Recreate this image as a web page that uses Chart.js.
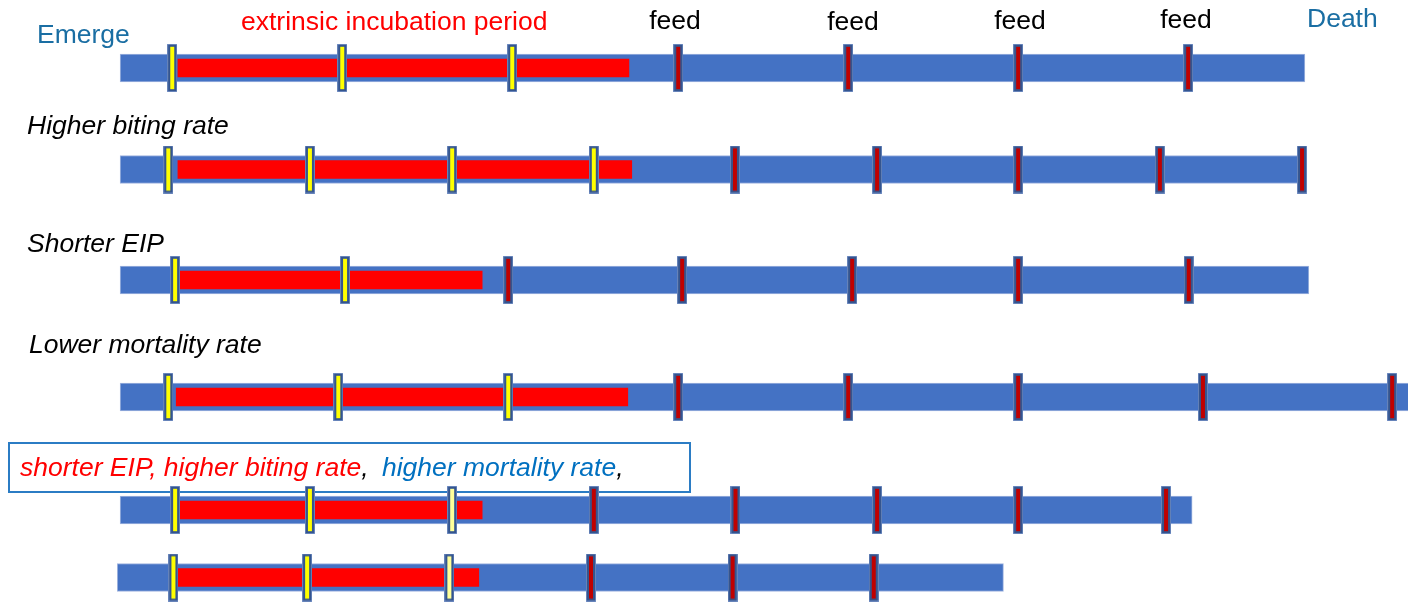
<!DOCTYPE html>
<html>
<head>
<meta charset="utf-8">
<title>EIP timeline</title>
<script src="https://cdn.jsdelivr.net/npm/chart.js@4.4.1/dist/chart.umd.min.js"></script>
<style>
  html, body { margin: 0; padding: 0; background: #fff; }
  #wrap { width: 1408px; height: 604px; }
</style>
</head>
<body>
<div id="wrap"><canvas id="grafico"></canvas></div>
<script>
// --- Dados (dias desde a emergência) ---
const rowNames = ['Baseline', 'Higher biting rate', 'Shorter EIP', 'Lower mortality rate', 'Combined', 'Combined (alt)'];
const lifeStart = [0, 0, 0, 0, 0, -0.05];
const lifeEnd = [20.91, 20.91, 20.98, 23.5, 18.92, 15.59];
const eipStart = [1.02, 1.02, 1.02, 0.99, 1.02, 1.01];
const eipEnd = [8.98, 9.03, 6.39, 8.96, 6.39, 6.33];
const feedDays = [
    [0.92, 3.92, 6.92, 9.85, 12.85, 15.85, 18.85],
    [0.85, 3.35, 5.86, 8.36, 10.85, 13.36, 15.85, 18.35, 20.86],
    [0.97, 3.97, 6.85, 9.92, 12.92, 15.85, 18.86],
    [0.85, 3.85, 6.85, 9.85, 12.85, 15.85, 19.11, 22.45],
    [0.97, 3.35, 5.86, 8.36, 10.86, 13.36, 15.85, 18.46],
    [0.94, 3.30, 5.81, 8.31, 10.81, 13.30]
];
// i = refeição durante o EIP, p = refeição clara, f = refeição infecciosa
const feedKinds = [
    ['i', 'i', 'i', 'f', 'f', 'f', 'f'],
    ['i', 'i', 'i', 'i', 'f', 'f', 'f', 'f', 'f'],
    ['i', 'i', 'f', 'f', 'f', 'f', 'f'],
    ['i', 'i', 'i', 'f', 'f', 'f', 'f', 'f'],
    ['i', 'i', 'p', 'f', 'f', 'f', 'f', 'f'],
    ['i', 'i', 'p', 'f', 'f', 'f']
];

// --- Layout ---
const DAY_MIN = -2.12;
const DAY_MAX = 22.73;
const LANE_MAX = 6.04;
const laneY = [0.68, 1.695, 2.80, 3.97, 5.10, 5.775];

const FONT = '"Liberation Sans", Arial, sans-serif';
const TEAL = '#1a6ea3';

const topLabels = [
    { text: 'Emerge', x: 37, y: 43, color: TEAL },
    { text: 'extrinsic incubation period', x: 241, y: 30, color: '#ff0000' },
    { text: 'feed', cx: 675, y: 29, color: '#000' },
    { text: 'feed', cx: 853, y: 30, color: '#000' },
    { text: 'feed', cx: 1020, y: 29, color: '#000' },
    { text: 'feed', cx: 1186, y: 28, color: '#000' },
    { text: 'Death', x: 1307, y: 27, color: TEAL }
];
const rowLabels = [
    { text: 'Higher biting rate', x: 27, y: 134 },
    { text: 'Shorter EIP', x: 27, y: 252 },
    { text: 'Lower mortality rate', x: 29, y: 353 }
];
const boxParts = [
    { text: 'shorter EIP, higher biting rate', color: '#ff0000' },
    { text: ', ', color: '#000' },
    { text: 'higher mortality rate', color: '#0070c0' },
    { text: ',', color: '#000' }
];

// --- Marcadores (imagem usada como pointStyle) ---
function criarMarcador(cor) {
    const c = document.createElement('canvas');
    c.width = 10;
    c.height = 48;
    const g = c.getContext('2d');
    g.fillStyle = '#7d98cc';
    g.fillRect(0, 0, 10, 48);
    g.fillStyle = '#34558f';
    g.fillRect(0.7, 0.7, 8.6, 46.6);
    g.fillStyle = cor;
    g.fillRect(3, 2.8, 4, 42.4);
    return c;
}
const marcadores = {
    i: criarMarcador('#ffff00'),
    p: criarMarcador('#ffff99'),
    f: criarMarcador('#c00000')
};

const pontos = [];
feedDays.forEach((dias, r) => {
    dias.forEach((d, k) => pontos.push({ x: d, y: laneY[r], kind: feedKinds[r][k] }));
});

// --- Textos e caixa ---
const textosPlugin = {
    id: 'textos',
    beforeDatasetsDraw(chart) {
        const ctx = chart.ctx;
        ctx.save();
        ctx.strokeStyle = '#2b7cc4';
        ctx.lineWidth = 2;
        ctx.strokeRect(9, 443, 681, 49);
        ctx.restore();
    },
    afterDraw(chart) {
        const ctx = chart.ctx;
        ctx.save();
        ctx.textBaseline = 'alphabetic';
        ctx.font = '26.5px ' + FONT;
        topLabels.forEach(l => {
            ctx.fillStyle = l.color;
            if (l.cx !== undefined) {
                ctx.textAlign = 'center';
                ctx.fillText(l.text, l.cx, l.y);
            } else {
                ctx.textAlign = 'left';
                ctx.fillText(l.text, l.x, l.y);
            }
        });
        ctx.textAlign = 'left';
        ctx.font = 'italic 26.5px ' + FONT;
        ctx.fillStyle = '#000';
        rowLabels.forEach(l => ctx.fillText(l.text, l.x, l.y));

        let x = 20;
        boxParts.forEach(p => {
            ctx.fillStyle = p.color;
            ctx.fillText(p.text, x, 476);
            x += ctx.measureText(p.text).width + (p.text === ', ' ? 6 : 0);
        });
        ctx.restore();
    }
};

new Chart(document.getElementById('grafico'), {
    type: 'bar',
    data: {
        datasets: [
            {
                type: 'scatter',
                label: 'feeds',
                data: pontos,
                order: 1,
                pointStyle: c => marcadores[c.raw ? c.raw.kind : 'f'],
                pointRadius: 5,
                clip: false
            },
            {
                label: 'EIP',
                data: rowNames.map((n, i) => ({ x: [eipStart[i], eipEnd[i]], y: laneY[i] })),
                backgroundColor: '#ff0000',
                borderWidth: 0,
                barThickness: 18,
                order: 2
            },
            {
                label: 'lifespan',
                data: rowNames.map((n, i) => ({ x: [lifeStart[i], lifeEnd[i]], y: laneY[i] })),
                backgroundColor: '#4472c4',
                borderColor: '#9fb4df',
                borderWidth: 1,
                borderSkipped: false,
                barThickness: 28,
                order: 3
            }
        ]
    },
    options: {
        indexAxis: 'y',
        responsive: true,
        maintainAspectRatio: false,
        animation: false,
        grouped: false,
        layout: { padding: 0, autoPadding: false },
        plugins: {
            legend: { display: false },
            tooltip: { enabled: false }
        },
        scales: {
            x: { type: 'linear', min: DAY_MIN, max: DAY_MAX, offset: false, display: false },
            y: { type: 'linear', min: 0, max: LANE_MAX, reverse: true, offset: false, display: false }
        }
    },
    plugins: [textosPlugin]
});
</script>
</body>
</html>
